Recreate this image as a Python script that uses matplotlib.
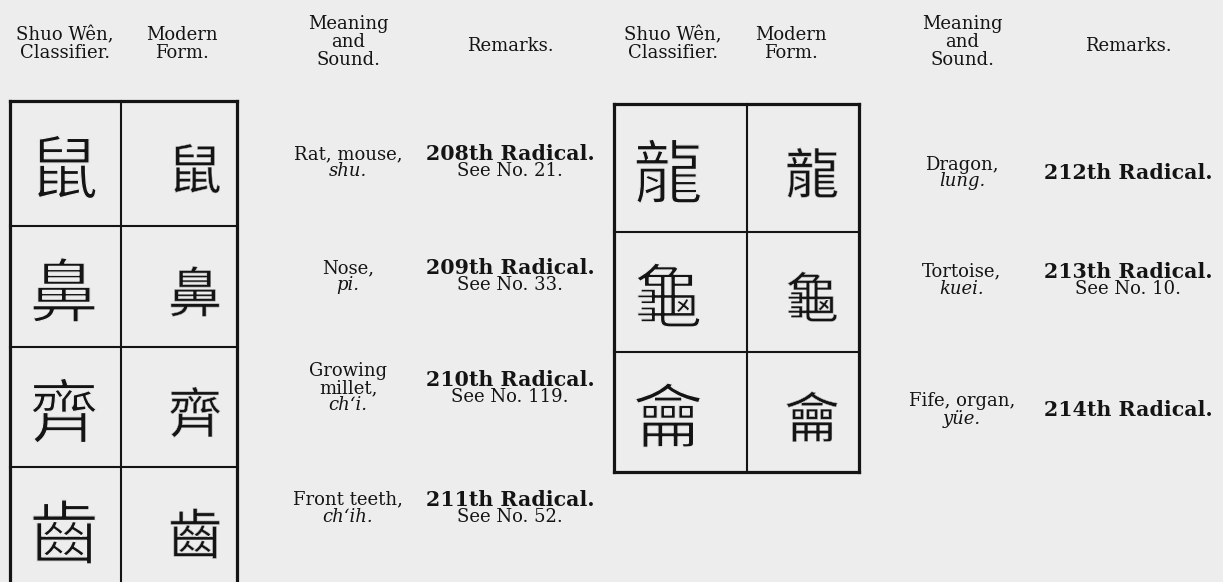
import matplotlib.pyplot as plt
import matplotlib.patheffects as pe

# column headers (same for both halves of the page)
headers = ["Shuo Wên,\nClassifier.", "Modern\nForm.", "Meaning\nand\nSound.", "Remarks."]

# left table: radicals 208-211
left_seal = ["鼠", "鼻", "齊", "齒"]
left_modern = ["鼠", "鼻", "齊", "齒"]
left_meaning = ["Rat, mouse,", "Nose,", "Growing\nmillet,", "Front teeth,"]
left_sound = ["shu.", "pi.", "ch\u2018i.", "ch\u2018ih."]
left_radical = ["208th Radical.", "209th Radical.", "210th Radical.", "211th Radical."]
left_see = ["See No. 21.", "See No. 33.", "See No. 119.", "See No. 52."]

# right table: radicals 212-214
right_seal = ["龍", "龜", "龠"]
right_modern = ["龍", "龜", "龠"]
right_meaning = ["Dragon,", "Tortoise,", "Fife, organ,"]
right_sound = ["lung.", "kuei.", "yüe."]
right_radical = ["212th Radical.", "213th Radical.", "214th Radical."]
right_see = ["", "See No. 10.", ""]

W, H = 1223, 582
BG = "#ededed"
INK = "#141414"
SERIF = "DejaVu Serif"
CJK = ["Noto Sans CJK TC", "DejaVu Sans"]
LINE = 17  # text line spacing in px
FS = 13     # body text size
FS_BOLD = 14.8

fig = plt.figure(figsize=(W / 100, H / 100), dpi=100, facecolor=BG)
ax = fig.add_axes([0, 0, 1, 1])
ax.set_xlim(0, W)
ax.set_ylim(H, 0)
ax.axis("off")
ax.set_facecolor(BG)

# seal forms drawn a little thinner by eroding the glyph outline with the page colour
thin = [pe.Normal(), pe.Stroke(linewidth=0.9, foreground=BG)]
thin_modern = [pe.Normal(), pe.Stroke(linewidth=0.4, foreground=BG)]


def draw_group(key, col_x, box, rows, seal, modern, meaning, sound, radical, see, text_y, open_bottom):
    # headers
    hy = [44, 44, 42, 46]
    for txt, x, y in zip(headers, col_x, hy):
        ax.text(x, y, txt, ha="center", va="center", fontsize=FS, family=SERIF,
                color=INK, linespacing=1.0, multialignment="center")

    # table box
    left, mid, right, top = box
    bottom = rows[-1]
    ax.plot([left, left], [top, bottom], color=INK, lw=2.3, solid_capstyle="projecting")
    ax.plot([right, right], [top, bottom], color=INK, lw=2.3, solid_capstyle="projecting")
    ax.plot([mid, mid], [top, bottom], color=INK, lw=1.5)
    ax.plot([left, right], [top, top], color=INK, lw=2.3, solid_capstyle="projecting")
    for y in rows[:-1]:
        ax.plot([left, right], [y, y], color=INK, lw=1.5)
    if not open_bottom:
        ax.plot([left, right], [bottom, bottom], color=INK, lw=2.3, solid_capstyle="projecting")

    edges = [top] + list(rows)
    for i in range(len(seal)):
        yc = (edges[i] + edges[i + 1]) / 2 + 10
        ax.text(seal_x[key], yc, seal[i], ha="center", va="center", fontsize=50,
                family=CJK, color=INK, path_effects=thin)
        ax.text(modern_x[key], yc, modern[i], ha="center", va="center", fontsize=39,
                family=CJK, color=INK, path_effects=thin_modern)

        # meaning + sound block
        mlines = meaning[i].split("\n")
        n = len(mlines) + 1
        y_start = text_y[i] - (n - 1) * LINE / 2
        for k, ln in enumerate(mlines):
            ax.text(col_x[2], y_start + k * LINE, ln, ha="center", va="center",
                    fontsize=FS, family=SERIF, color=INK)
        ax.text(col_x[2], y_start + (n - 1) * LINE, sound[i], ha="center", va="center",
                fontsize=FS, family=SERIF, style="italic", color=INK)

        # remarks block
        if see[i]:
            ax.text(col_x[3], text_y[i] - LINE / 2, radical[i], ha="center", va="center",
                    fontsize=FS_BOLD, family=SERIF, fontweight="bold", color=INK)
            ax.text(col_x[3], text_y[i] + LINE / 2, see[i], ha="center", va="center",
                    fontsize=FS, family=SERIF, color=INK)
        else:
            ax.text(col_x[3], text_y[i], radical[i], ha="center", va="center",
                    fontsize=FS_BOLD, family=SERIF, fontweight="bold", color=INK)


seal_x = {"L": 64, "R": 668}
modern_x = {"L": 195, "R": 812}

draw_group("L", [65, 182, 348, 510], (10, 121, 237, 101), [226, 347, 467, 590],
           left_seal, left_modern, left_meaning, left_sound, left_radical, left_see,
           [163, 277, 388, 508], open_bottom=True)
draw_group("R", [673, 791, 962, 1128], (614, 747, 859, 104), [232, 352, 472],
           right_seal, right_modern, right_meaning, right_sound, right_radical, right_see,
           [173, 280, 410], open_bottom=False)

fig.savefig("out.png", dpi=100, facecolor=BG)
